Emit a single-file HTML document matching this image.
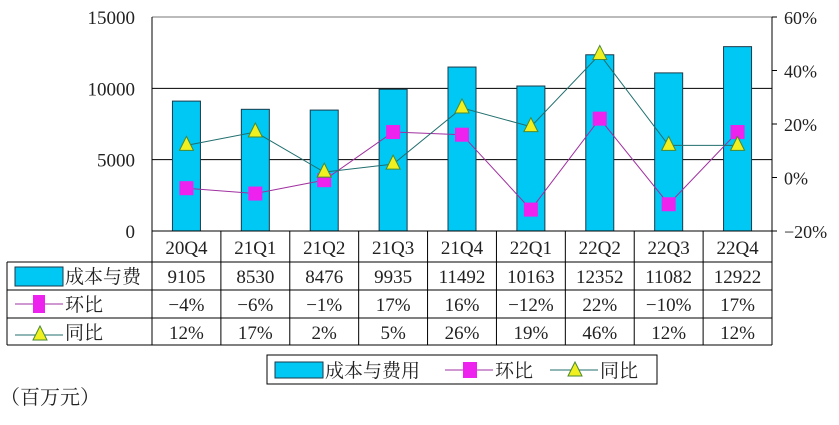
<!DOCTYPE html>
<html><head><meta charset="utf-8"><style>
body{margin:0;background:#fff;width:839px;height:420px;overflow:hidden}
svg text{font-family:"Liberation Serif","Noto Serif CJK SC",serif;fill:#222}
</style></head><body>
<svg id="c" width="839" height="420"></svg>
<script>
const categories=["20Q4","21Q1","21Q2","21Q3","21Q4","22Q1","22Q2","22Q3","22Q4"];
const costs=[9105,8530,8476,9935,11492,10163,12352,11082,12922];
const qoq=[-4,-6,-1,17,16,-12,22,-10,17];
const yoy=[12,17,2,5,26,19,46,12,12];
const leftTicks=[0,5000,10000,15000];
const rightTicks=[-20,0,20,40,60];
const NS="http://www.w3.org/2000/svg";
const svg=document.getElementById('c');
const L=152,R=772,T=17,B=231,cw=(R-L)/categories.length;
const yL=v=>B-(v/15000)*(B-T);
const yR=v=>B-((v+20)/80)*(B-T);
const xC=i=>L+cw*(i+0.5);
function el(t,a,p){const e=document.createElementNS(NS,t);for(const k in a)e.setAttribute(k,a[k]);(p||svg).appendChild(e);return e;}
function txt(x,y,s,size,anchor){const e=el('text',{x:x,y:y,'font-size':size||17,'text-anchor':anchor||'middle'});e.textContent=s;return e;}
let f=el('line',{x1:L,y1:T,x2:R,y2:T,stroke:'#777'});

f=el('line',{x1:L,y1:T,x2:L,y2:B,stroke:'#000'});

f=el('line',{x1:R,y1:T,x2:R,y2:B,stroke:'#000'});

leftTicks.forEach(v=>{
  if(v>0&&v<15000){const g=el('line',{x1:L,y1:yL(v),x2:R,y2:yL(v),stroke:'#000'});
  }
  const t=txt(135,yL(v)+7,String(v),19,'end');
  
});
rightTicks.forEach(v=>{
  const k=el('line',{x1:R,y1:yR(v),x2:R+5,y2:yR(v),stroke:'#000'});
  
  const t=txt(784,yR(v)+7,(v<0?'−':'')+Math.abs(v)+'%',18,'start');
  
});
costs.forEach((v,i)=>{
  const b=el('rect',{x:xC(i)-14,y:yL(v),width:28,height:B-yL(v),fill:'#00c8f4',stroke:'#1a3a4a','stroke-width':1});
  
});
const p1=el('polyline',{points:qoq.map((v,i)=>xC(i)+','+yR(v)).join(' '),fill:'none',stroke:'#a030a0','stroke-width':1});

const p2=el('polyline',{points:yoy.map((v,i)=>xC(i)+','+yR(v)).join(' '),fill:'none',stroke:'#206e6e','stroke-width':1});

qoq.forEach((v,i)=>{
  const m=el('rect',{x:xC(i)-7,y:yR(v)-7,width:14,height:14,fill:'#ee22ee'});
  
});
yoy.forEach((v,i)=>{
  const x=xC(i),y=yR(v);
  const m=el('polygon',{points:`${x},${y-9} ${x-7},${y+5} ${x+7},${y+5}`,fill:'#f0f020',stroke:'#4a8a30'});
  
});
let tl=el('line',{x1:L,y1:B,x2:R,y2:B,stroke:'#000'});

[262,290,318,345].forEach(y=>{const l=el('line',{x1:7,y1:y,x2:R,y2:y,stroke:'#000'});});
el('line',{x1:7,y1:262,x2:7,y2:345,stroke:'#000'});
for(let i=0;i<=categories.length;i++){const l=el('line',{x1:L+cw*i,y1:B,x2:L+cw*i,y2:345,stroke:'#000'});}
categories.forEach((c,i)=>{const t=txt(xC(i),254,c,19);});
costs.forEach((v,i)=>{const t=txt(xC(i),283,String(v),19);});
qoq.forEach((v,i)=>{const t=txt(xC(i),311,(v<0?'−':'')+Math.abs(v)+'%',19);});
yoy.forEach((v,i)=>{const t=txt(xC(i),339,v+'%',19);});
el('rect',{x:15,y:267,width:48,height:19,fill:'#00c8f4',stroke:'#1a3a4a'});
let h=txt(65,283,'成本与费',19,'start');
el('line',{x1:15,y1:304,x2:63,y2:304,stroke:'#a030a0'});el('rect',{x:33,y:295,width:12,height:18,fill:'#ee22ee'});
h=txt(65,311,'环比',19,'start');
el('line',{x1:15,y1:335,x2:63,y2:335,stroke:'#206e6e'});el('polygon',{points:'40,326 33,340 47,340',fill:'#f0f020',stroke:'#4a8a30'});
h=txt(65,339,'同比',19,'start');
const lg=el('g',{});
el('rect',{x:267,y:355,width:390,height:29,fill:'#fff',stroke:'#000'},lg);
el('rect',{x:275,y:362,width:48,height:16,fill:'#00c8f4',stroke:'#1a3a4a'},lg);
let le=txt(325,377,'成本与费用',19,'start');lg.appendChild(le);
el('line',{x1:445,y1:370,x2:493,y2:370,stroke:'#a030a0'},lg);el('rect',{x:463,y:362,width:14,height:16,fill:'#ee22ee'},lg);
le=txt(495,377,'环比',19,'start');lg.appendChild(le);
el('line',{x1:550,y1:370,x2:598,y2:370,stroke:'#206e6e'},lg);el('polygon',{points:'575,362 568,376 582,376',fill:'#f0f020',stroke:'#4a8a30'},lg);
le=txt(600,377,'同比',19,'start');lg.appendChild(le);
const u=txt(0,404,'（百万元）',20,'start');
</script>
</body></html>
